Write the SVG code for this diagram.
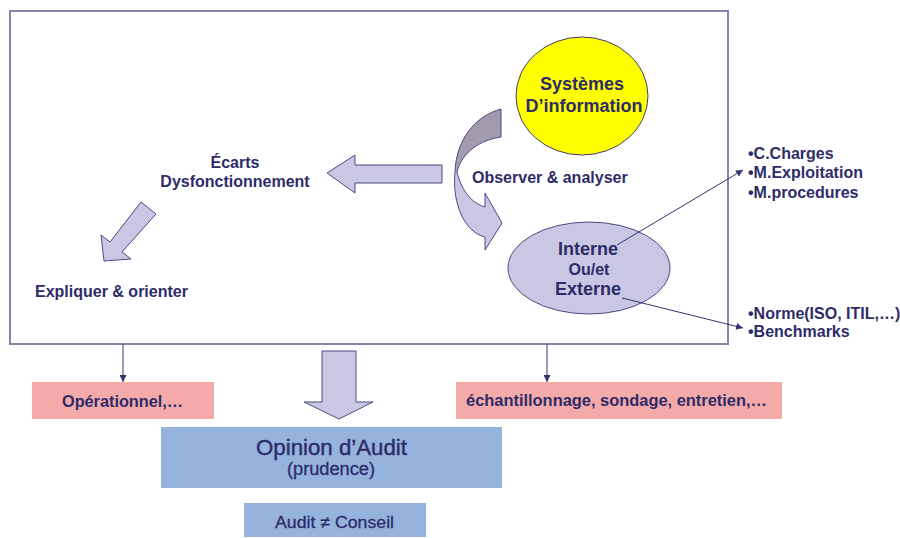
<svg xmlns="http://www.w3.org/2000/svg" width="900" height="538" viewBox="0 0 900 538">
<defs>
<style>
.t{font-family:"Liberation Sans",Arial,sans-serif;font-weight:bold;fill:#2d2c68;}
.n{font-family:"Liberation Sans",Arial,sans-serif;font-weight:normal;fill:#2d2c68;}
.big{fill:#c9c7e4;stroke:#4b4a84;stroke-width:1;}
.conn{stroke:#35346f;stroke-width:1;fill:none;}
</style>
<marker id="ah" viewBox="0 0 10 10" refX="10" refY="5" markerWidth="7" markerHeight="7" orient="auto" markerUnits="userSpaceOnUse">
<path d="M0,0 L10,5 L0,10 z" fill="#35346f"/>
</marker>
<linearGradient id="cg" gradientUnits="userSpaceOnUse" x1="0" y1="109" x2="0" y2="250">
<stop offset="0" stop-color="#a398ab"/>
<stop offset="0.42" stop-color="#a69db0"/>
<stop offset="0.47" stop-color="#c9c7e4"/>
<stop offset="1" stop-color="#c9c7e4"/>
</linearGradient>
</defs>
<rect width="900" height="538" fill="#ffffff"/>

<g id="frame">
<rect x="10" y="11" width="718" height="333" fill="none" stroke="#8785ae" stroke-width="2"/>
</g>

<g id="systemes">
<ellipse cx="582" cy="96" rx="66" ry="59" fill="#ffff00" stroke="#3d3c78" stroke-width="1"/>
<text class="t" x="582" y="90" font-size="18" text-anchor="middle">Systèmes</text>
<text class="t" x="584" y="112" font-size="18" text-anchor="middle">D’information</text>
</g>

<g id="curved-arrow">
<path d="M501,109 L501,137 C480,140 462,152 457,172 C462,192 472,203 485,207 L485,193 L502,223 L485,250 L485,237 C465,232 452,205 455,172 C456,140 475,116 501,109 Z" fill="url(#cg)" stroke="#4b4a84" stroke-width="1"/>
</g>

<g id="observer">
<text class="t" x="472" y="183" font-size="16">Observer &amp; analyser</text>
</g>

<g id="interne">
<ellipse cx="589" cy="268" rx="81" ry="46" fill="#c9c7e4" stroke="#4b4a84" stroke-width="1"/>
<text class="t" x="588" y="255" font-size="18" text-anchor="middle">Interne</text>
<text class="t" x="589" y="275" font-size="16" text-anchor="middle">Ou/et</text>
<text class="t" x="588" y="295" font-size="18" text-anchor="middle">Externe</text>
</g>

<g id="left-arrow">
<polygon class="big" points="442,165 355,165 355,155 327,173 355,193 355,183 442,183"/>
</g>

<g id="ecarts">
<text class="t" x="235" y="168" font-size="16" text-anchor="middle">Écarts</text>
<text class="t" x="235" y="187" font-size="16" text-anchor="middle">Dysfonctionnement</text>
</g>

<g id="diag-arrow">
<polygon class="big" points="141,202 156,214 122,252 131,259 104,261 101,235 110,242"/>
</g>

<g id="expliquer">
<text class="t" x="35" y="297" font-size="16">Expliquer &amp; orienter</text>
</g>

<g id="charges">
<text class="t" x="748" y="159" font-size="16">•C.Charges</text>
<text class="t" x="748" y="178" font-size="16">•M.Exploitation</text>
<text class="t" x="748" y="198" font-size="16">•M.procedures</text>
</g>

<g id="normes">
<text class="t" x="748" y="319" font-size="16">•Norme(ISO, ITIL,…)</text>
<text class="t" x="748" y="337" font-size="16">•Benchmarks</text>
</g>

<g id="down-arrow">
<polygon class="big" points="322,351 356,351 356,402 373,402 339,419 304,402 322,402"/>
</g>

<g id="operationnel">
<rect x="32" y="382" width="182" height="37" fill="#f5aaaa"/>
<text class="t" x="62" y="407" font-size="16" textLength="121" lengthAdjust="spacingAndGlyphs">Opérationnel,…</text>
</g>

<g id="echantillonnage">
<rect x="456" y="382" width="326" height="37" fill="#f5aaaa"/>
<text class="t" x="466" y="406" font-size="16" textLength="301" lengthAdjust="spacingAndGlyphs">échantillonnage, sondage, entretien,…</text>
</g>

<g id="opinion">
<rect x="161" y="427" width="341" height="61" fill="#95b3dd"/>
<text class="n" x="256" y="455" font-size="22" textLength="151" lengthAdjust="spacingAndGlyphs" stroke="#2d2c68" stroke-width="0.4">Opinion d’Audit</text>
<text class="n" x="287" y="475" font-size="18" textLength="88" lengthAdjust="spacingAndGlyphs" stroke="#2d2c68" stroke-width="0.3">(prudence)</text>
</g>

<g id="conseil">
<rect x="244" y="503" width="182" height="34" fill="#95b3dd"/>
<text class="n" x="275" y="528" font-size="17" textLength="119" lengthAdjust="spacingAndGlyphs" stroke="#2d2c68" stroke-width="0.3">Audit ≠ Conseil</text>
</g>

<g id="connectors">
<line class="conn" x1="617" y1="245" x2="743" y2="170" marker-end="url(#ah)"/>
<line class="conn" x1="622" y1="298" x2="743" y2="328" marker-end="url(#ah)"/>
<line class="conn" x1="123" y1="344" x2="123" y2="382" marker-end="url(#ah)"/>
<line class="conn" x1="547" y1="344" x2="547" y2="382" marker-end="url(#ah)"/>
</g>
</svg>
